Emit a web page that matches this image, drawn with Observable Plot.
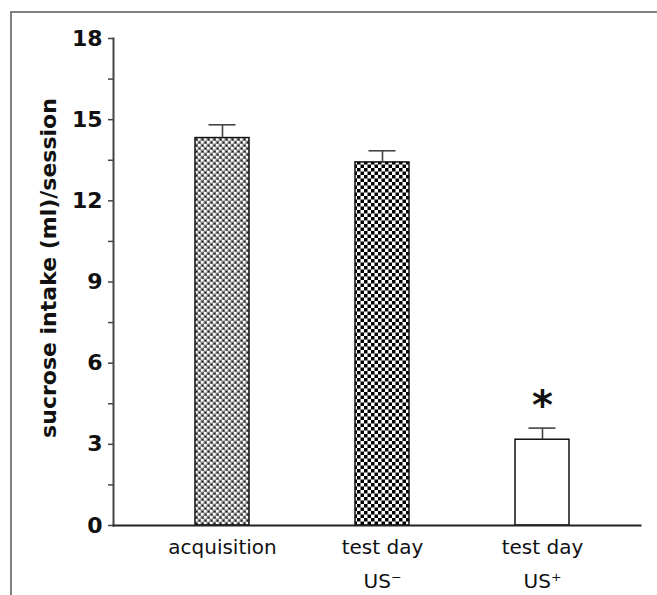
<!DOCTYPE html>
<html>
<head>
<meta charset="utf-8">
<script src="https://cdn.jsdelivr.net/npm/d3@7"></script>
<script src="https://cdn.jsdelivr.net/npm/@observablehq/plot@0.6"></script>
<style>
  html, body { margin: 0; padding: 0; background: #fff; }
  #wrap { position: relative; width: 657px; height: 595px; overflow: hidden; }
  #border { position: absolute; left: 10px; top: 11px; right: -5px; bottom: -5px;
            border-top: 2px solid #808080; border-left: 2px solid #808080; }
  #chart { position: absolute; left: 0; top: 0; }
</style>
</head>
<body>
<div id="wrap"><div id="border"></div><div id="chart"></div></div>
<script>
// ---- data ----
const categories = ["acquisition", "test day US-", "test day US+"];
const tickLabels = ["acquisition", "test day\nUS\u207B", "test day\nUS\u207A"];
const intake = [14.32, 13.42, 3.17];
const sem = [0.49, 0.43, 0.43];
const marks = ["", "", "*"];
const fills = ["url(#patFine)", "url(#patChecker)", "#ffffff"];
const majorTicks = [0, 3, 6, 9, 12, 15, 18];
const minorTicks = [1.5, 4.5, 7.5, 10.5, 13.5, 16.5];
const yLabel = "sucrose intake (ml)/session";

const data = categories.map((c, i) => ({
  cat: c, value: intake[i], err: sem[i], top: intake[i] + sem[i], mark: marks[i], fill: fills[i]
}));

const font = "DejaVu Sans, Verdana, sans-serif";

const svg = Plot.plot({
  width: 657,
  height: 595,
  marginTop: 38,
  marginBottom: 70,
  marginLeft: 113,
  marginRight: 17,
  style: { fontFamily: font, fontSize: "20px", background: "transparent", color: "#111", overflow: "visible" },
  x: { domain: categories, paddingInner: 0.6625, paddingOuter: 0.478, align: 0.536, axis: null },
  y: { domain: [0, 18], axis: null },
  color: { type: "identity" },
  marks: [
    Plot.barY(data, { x: "cat", y: "value", fill: "fill", stroke: "#111", strokeWidth: 1.5 }),
    Plot.ruleX(data, { x: "cat", y1: "value", y2: "top", stroke: "#444", strokeWidth: 1.6 }),
    Plot.tickY(data, { x: "cat", y: "top", stroke: "#444", strokeWidth: 1.6, insetLeft: 13.5, insetRight: 13.5 }),
    Plot.text(data, { x: "cat", y: "top", text: "mark", dy: -22, fontSize: 40, fontWeight: "bold", fill: "#111" }),
    Plot.frame({ anchor: "left", stroke: "#444", strokeWidth: 2 }),
    Plot.frame({ anchor: "bottom", stroke: "#222", strokeWidth: 2 }),
    Plot.axisY({ ticks: majorTicks, tickSize: 5, tickPadding: 6, fontSize: 22, fontWeight: "bold",
                 stroke: "#444", strokeWidth: 1.5, label: null, tickFormat: d => String(d) }),
    Plot.axisY({ ticks: minorTicks, tickSize: 5, stroke: "#444", strokeWidth: 1.5, label: null, tickFormat: () => "" }),
    Plot.axisX({ tickSize: 0, tickPadding: 4, fontSize: 20, lineHeight: 1.7, label: null, fill: "#111",
                 tickFormat: d => tickLabels[categories.indexOf(d)] }),
    Plot.text([yLabel], { text: d => d, frameAnchor: "left", textAnchor: "middle", rotate: -90, dx: -65, dy: -14,
                          fontSize: 22, fontWeight: "bold", fill: "#111" })
  ]
});

const defs = `
<defs>
  <pattern id="patFine" patternUnits="userSpaceOnUse" width="6" height="6">
    <rect width="6" height="6" fill="#7a7a7a"/>
    <rect x="0" y="0" width="2.6" height="2.6" fill="#ffffff"/>
    <rect x="3" y="3" width="2.6" height="2.6" fill="#ffffff"/>
    <rect x="4" y="1" width="1.2" height="1.2" fill="#111"/>
    <rect x="1" y="4" width="1.2" height="1.2" fill="#111"/>
  </pattern>
  <pattern id="patChecker" patternUnits="userSpaceOnUse" width="7" height="7">
    <rect width="7" height="7" fill="#ffffff"/>
    <rect x="0" y="0" width="3.5" height="3.5" fill="#000"/>
    <rect x="3.5" y="3.5" width="3.5" height="3.5" fill="#000"/>
  </pattern>
</defs>`;
svg.insertAdjacentHTML("afterbegin", defs);
document.getElementById("chart").appendChild(svg);
</script>
</body>
</html>
